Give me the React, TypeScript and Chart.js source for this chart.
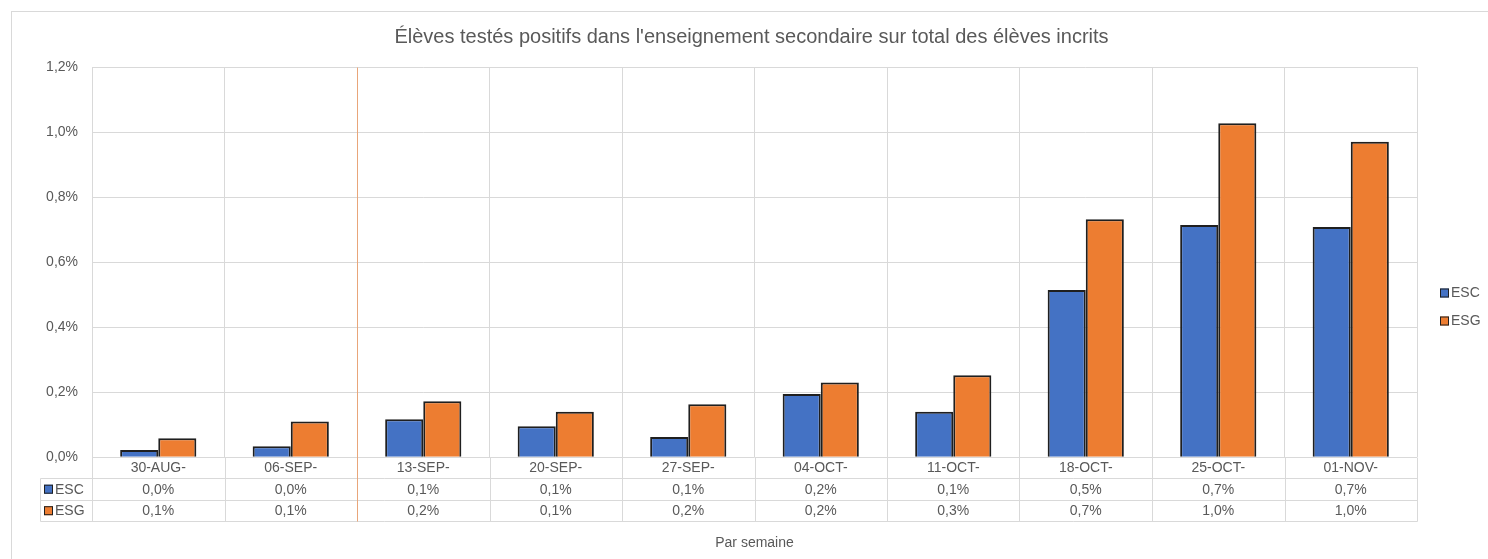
import React, { useEffect, useRef } from 'react';
import { Chart, registerables } from 'chart.js';

Chart.register(...registerables);

const chartTitle = "Élèves testés positifs dans l'enseignement secondaire sur total des élèves incrits";
const xAxisTitle = 'Par semaine';
const categories = ['30-AUG-', '06-SEP-', '13-SEP-', '20-SEP-', '27-SEP-', '04-OCT-', '11-OCT-', '18-OCT-', '25-OCT-', '01-NOV-'];
const seriesNames = ['ESC', 'ESG'];
const escValues = [0.022, 0.034, 0.117, 0.095, 0.062, 0.194, 0.14, 0.514, 0.714, 0.708];
const esgValues = [0.058, 0.11, 0.172, 0.14, 0.163, 0.23, 0.252, 0.732, 1.027, 0.97];
const seriesColors = ['#4472C4', '#ED7D31'];
const yMin = 0;
const yMax = 1.2;
const yStep = 0.2;
const markerBetween = [1, 2]; // vertical marker line between 06-SEP- and 13-SEP-

const W = 1488;
const H = 559;
const TEXT = '#595959';
const GRID = '#d9d9d9';
const FONT = '"Liberation Sans", Arial, sans-serif';

const fmtPct = (v: number) => v.toFixed(1).replace('.', ',') + '%';

const seriesValues = [escValues, esgValues];

const px = (v: number) => Math.round(v) + 0.5;

const decoPlugin = {
  id: 'deco',
  beforeDraw(chart: any) {
    const { ctx } = chart;
    ctx.save();
    ctx.fillStyle = '#ffffff';
    ctx.fillRect(0, 0, chart.width, chart.height);
    ctx.strokeStyle = GRID;
    ctx.lineWidth = 1;
    ctx.strokeRect(11.5, 11.5, chart.width + 20, chart.height + 20);
    // title, centred on the chart frame
    ctx.fillStyle = TEXT;
    ctx.font = `20px ${FONT}`;
    ctx.textAlign = 'center';
    ctx.textBaseline = 'middle';
    ctx.fillText(chartTitle, (11 + chart.width) / 2 + 2, 37);
    ctx.restore();
  },
  afterDraw(chart: any) {
    const { ctx, chartArea } = chart;
    const x = chart.scales.x;
    const bottom = chartArea.bottom;
    const r1 = bottom + 21;
    const r2 = r1 + 22;
    const r3 = r2 + 21;
    const keyLeft = 40;
    ctx.save();
    ctx.strokeStyle = GRID;
    ctx.lineWidth = 1;
    const line = (x1: number, y1: number, x2: number, y2: number) => {
      ctx.beginPath();
      ctx.moveTo(x1, y1);
      ctx.lineTo(x2, y2);
      ctx.stroke();
    };
    [r1, r2, r3].forEach((r) => line(px(keyLeft), px(r), px(chartArea.right), px(r)));
    for (let i = 0; i <= categories.length; i++) {
      const xb = px(x.getPixelForValue(i - 0.5));
      line(xb, px(bottom), xb, px(r3));
    }
    line(px(keyLeft), px(r1), px(keyLeft), px(r3));

    // marker line
    const mx = px(x.getPixelForValue((markerBetween[0] + markerBetween[1]) / 2));
    ctx.strokeStyle = '#E9A67A';
    line(mx, px(chartArea.top), mx, px(r3));

    ctx.fillStyle = TEXT;
    ctx.font = `14px ${FONT}`;
    ctx.textAlign = 'center';
    ctx.textBaseline = 'middle';
    categories.forEach((c, i) => {
      const cx = x.getPixelForValue(i);
      ctx.fillText(c, cx, (bottom + r1) / 2 + 0.5);
      ctx.fillText(fmtPct(seriesValues[0][i]), cx, (r1 + r2) / 2 + 0.5);
      ctx.fillText(fmtPct(seriesValues[1][i]), cx, (r2 + r3) / 2 + 0.5);
    });

    const drawKey = (kx: number, ky: number, color: string) => {
      ctx.fillStyle = color;
      ctx.fillRect(kx, ky - 4.5, 9, 9);
      ctx.strokeStyle = '#1f1f1f';
      ctx.lineWidth = 1;
      ctx.strokeRect(kx + 0.5, ky - 4, 8, 8);
    };
    // table keys
    ctx.textAlign = 'left';
    seriesNames.forEach((n, i) => {
      const cy = i === 0 ? (r1 + r2) / 2 : (r2 + r3) / 2;
      drawKey(44, cy, seriesColors[i]);
      ctx.fillStyle = TEXT;
      ctx.font = `14px ${FONT}`;
      ctx.fillText(n, 55, cy + 0.5);
    });

    // legend on the right
    const lx = chartArea.right + 23;
    const ly0 = 293;
    seriesNames.forEach((n, i) => {
      const cy = ly0 + i * 28;
      drawKey(lx, cy, seriesColors[i]);
      ctx.fillStyle = TEXT;
      ctx.font = `14px ${FONT}`;
      ctx.fillText(n, lx + 11, cy + 0.5);
    });
    ctx.restore();
  },
};

export default function App() {
  const ref = useRef<HTMLCanvasElement | null>(null);
  useEffect(() => {
    if (!ref.current) return;
    Chart.defaults.font.family = FONT;
    const chart = new Chart(ref.current, {
      type: 'bar',
      data: {
        labels: categories,
        datasets: seriesNames.map((n, i) => ({
          label: n,
          data: seriesValues[i],
          backgroundColor: seriesColors[i],
          borderColor: '#1f1f1f',
          borderWidth: 2,
          categoryPercentage: 0.575,
          barPercentage: 1.0,
        })),
      },
      options: {
        responsive: false,
        animation: false,
        layout: { padding: { top: 67, right: 71, bottom: 7, left: 0 } },
        plugins: {
          legend: { display: false },
          tooltip: { enabled: false },
          title: { display: false },
        },
        scales: {
          x: {
            grid: { color: GRID, drawTicks: false, offset: true },
            border: { display: false },
            ticks: { display: false },
            title: {
              display: true,
              text: xAxisTitle,
              color: TEXT,
              font: { size: 14, family: FONT },
              padding: { top: 78, bottom: 0 },
            },
          },
          y: {
            min: yMin,
            max: yMax,
            grid: { color: GRID, drawTicks: false },
            border: { display: false },
            ticks: {
              stepSize: yStep,
              color: TEXT,
              font: { size: 14, family: FONT },
              padding: 14,
              callback: (v: any) => fmtPct(Number(v)),
            },
            afterFit: (s: any) => {
              s.width = 92;
            },
          },
        },
      },
      plugins: [decoPlugin],
    });
    return () => chart.destroy();
  }, []);
  return (
    <div style={{ position: 'absolute', left: 0, top: 0, width: W, height: H }}>
      <canvas ref={ref} width={W} height={H} style={{ width: W, height: H, display: 'block' }} />
    </div>
  );
}
